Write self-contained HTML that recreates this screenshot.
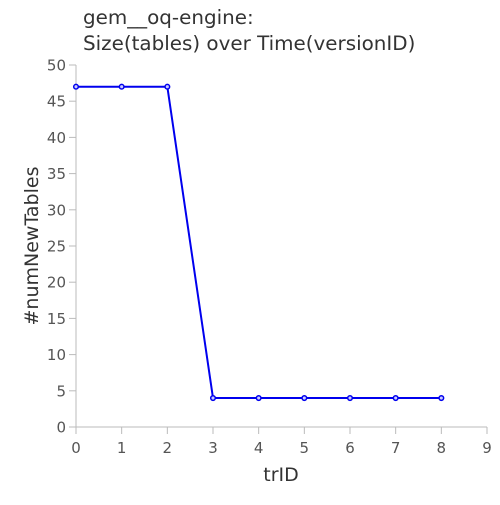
<!DOCTYPE html>
<html><head><meta charset="utf-8"><style>
body{margin:0;background:#fff}
svg{font-family:"DejaVu Sans","Liberation Sans",sans-serif}
</style></head><body>
<svg id="chart" width="500" height="500">
<text x="83" y="24" font-size="19.9" fill="#333">gem__oq-engine:</text>
<text x="83" y="50" font-size="19.9" fill="#333">Size(tables) over Time(versionID)</text>
<g id="axes"></g>
<text x="281" y="481" font-size="19" fill="#333" text-anchor="middle">trID</text>
<text transform="translate(38,246) rotate(-90)" font-size="19" fill="#333" text-anchor="middle">#numNewTables</text>
</svg>
<script>
const xValues=[0,1,2,3,4,5,6,7,8];
const yValues=[47,47,47,4,4,4,4,4,4];
const xTicks=[0,1,2,3,4,5,6,7,8,9];
const yTicks=[0,5,10,15,20,25,30,35,40,45,50];
const NS="http://www.w3.org/2000/svg";
const L=76,R=487,T=65,B=427;
const sx=v=>L+(v-0)/(9-0)*(R-L);
const sy=v=>B-(v-0)/(50-0)*(B-T);
const g=document.getElementById('axes');
function mk(t,a){const e=document.createElementNS(NS,t);for(const k in a)e.setAttribute(k,a[k]);g.appendChild(e);return e;}
let e=mk('line',{x1:L,y1:T,x2:L,y2:B,stroke:'#bbb','stroke-width':1});


e=mk('line',{x1:L,y1:B,x2:R,y2:B,stroke:'#bbb','stroke-width':1});


xTicks.forEach(v=>{
 let t=mk('line',{x1:sx(v),y1:B,x2:sx(v),y2:B+7,stroke:'#bbb'});
 
 
 let tx=mk('text',{x:sx(v),y:B+26,'font-size':15,fill:'#555','text-anchor':'middle'});
 tx.textContent=v;
 
 
});
yTicks.forEach(v=>{
 let t=mk('line',{x1:L-7,y1:sy(v),x2:L,y2:sy(v),stroke:'#bbb'});
 
 
 let tx=mk('text',{x:L-10,y:sy(v)+5.5,'font-size':15,fill:'#555','text-anchor':'end'});
 tx.textContent=v;
 
 
});
const pts=xValues.map((x,i)=>sx(x)+','+sy(yValues[i])).join(' ');
let pl=mk('polyline',{points:pts,fill:'none',stroke:'#0000ee','stroke-width':2});


xValues.forEach((x,i)=>{
 let c=mk('circle',{cx:sx(x),cy:sy(yValues[i]),r:2.3,fill:'#ccf',stroke:'#0000ee','stroke-width':1.5});
 
 
});
</script>
</body></html>
